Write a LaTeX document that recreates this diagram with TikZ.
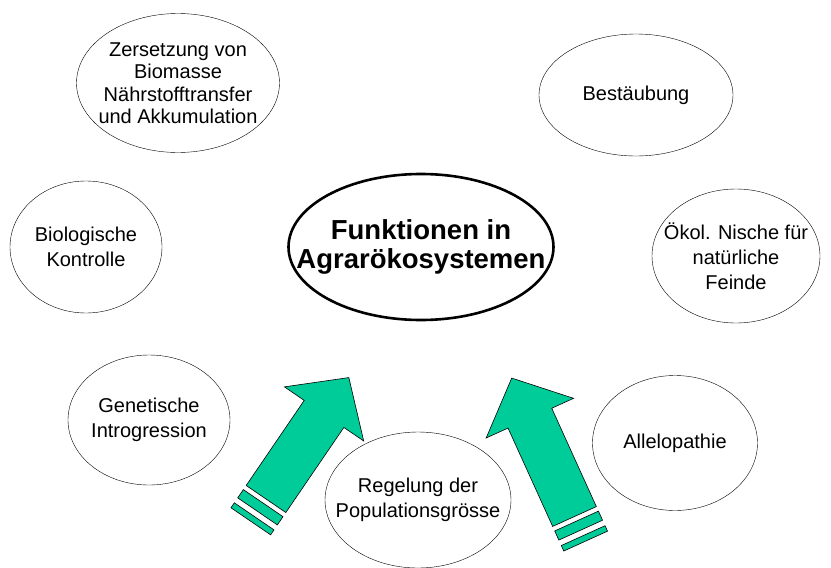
\documentclass[tikz,border=0pt]{standalone}
\usepackage{fontspec}
\setmainfont{Liberation Sans}
\usetikzlibrary{shapes.geometric}
\definecolor{arrowgreen}{RGB}{0,204,153}
\tikzset{
  bubble/.style={draw, ellipse, thin, align=center, inner sep=-150pt, font=\fontsize{20}{25}\selectfont},
  hub/.style={draw, ellipse, line width=2.6pt, align=center, inner sep=-150pt, font=\bfseries\fontsize{27.5}{29}\selectfont},
  bigarrow/.style={draw=black, fill=arrowgreen, line width=0.6pt, line join=miter}
}
\begin{document}
\begin{tikzpicture}[x=1pt, y=-1pt]
\useasboundingbox (0,0) rectangle (831,568);
\node[hub, minimum width=265, minimum height=146] (funk) at (421,247) {Funktionen in\\Agrarökosystemen};
\node[bubble, minimum width=203, minimum height=139, font=\fontsize{20}{22.5}\selectfont] (zers) at (178,83) {Zersetzung von\\Biomasse\\Nährstofftransfer\\und Akkumulation};
\node[bubble, minimum width=194, minimum height=122] (best) at (636,95) {Bestäubung};
\node[bubble, minimum width=152, minimum height=132] (bio) at (86,247) {Biologische\\Kontrolle};
\node[bubble, minimum width=168, minimum height=134] (nische) at (736,256) {Ökol. Nische für\\natürliche\\Feinde};
\node[bubble, minimum width=162, minimum height=130] (gen) at (149,420) {Genetische\\Introgression};
\node[bubble, minimum width=186, minimum height=136] (regel) at (418,500) {Regelung der\\Populationsgrösse};
\node[bubble, minimum width=165, minimum height=135] (allelo) at (675,443) {Allelopathie};
% left arrow
\begin{scope}[shift={(266,499)}, rotate=55.7]
\draw[bigarrow] (0,-24) -- (103,-24) -- (103,-48) -- (147,0) -- (103,48) -- (103,24) -- (0,24) -- cycle;
\draw[bigarrow] (-5,-24) rectangle (-15,24);
\draw[bigarrow] (-21,-24) rectangle (-27,24);
\end{scope}
% right arrow
\begin{scope}[shift={(574.5,516.5)}, rotate=114.4]
\draw[bigarrow] (0,-24) -- (108,-24) -- (108,-48) -- (152,0) -- (108,48) -- (108,24) -- (0,24) -- cycle;
\draw[bigarrow] (-5,-24) rectangle (-15,24);
\draw[bigarrow] (-21,-24) rectangle (-27,24);
\end{scope}
\end{tikzpicture}
\end{document}
